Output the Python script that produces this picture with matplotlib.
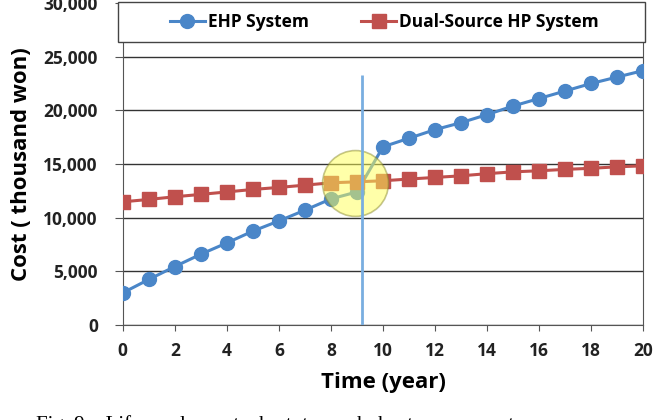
import matplotlib
matplotlib.use("Agg")
import matplotlib.pyplot as plt
from matplotlib.patches import Rectangle

years = list(range(0, 21))
ehp_cost = [3000, 4250, 5450, 6600, 7650, 8750, 9700, 10700, 11750, 12400,
            16600, 17400, 18200, 18850, 19600, 20400, 21100, 21800, 22500, 23100, 23700]
dual_cost = [11480, 11700, 11950, 12170, 12400, 12630, 12820, 13030, 13250, 13340,
             13440, 13600, 13750, 13900, 14100, 14270, 14370, 14500, 14600, 14740, 14830]
break_even = 9.2
highlight = (8.93, 13270)

plt.rcParams['font.family'] = ['Open Sans', 'DejaVu Sans']

fig = plt.figure(figsize=(6.53, 4.2), dpi=100)
ax = fig.add_axes([0.188, 0.226, 0.797, 0.767])

ax.plot(years, ehp_cost, color='#4a86c8', lw=2.2, marker='o', ms=10,
        label='EHP System', zorder=3)
ax.plot(years, dual_cost, color='#c0504d', lw=2.2, marker='s', ms=9.5,
        label='Dual-Source HP System', zorder=3)

# highlighted crossing region
ax.scatter([highlight[0]], [highlight[1]], s=2250, color='#ffff55', alpha=0.5,
           edgecolors='#8a8a30', linewidths=1.2, zorder=4)
ax.vlines(break_even, 0, 23300, color='#79aee0', lw=2, zorder=5)

ax.set_xlim(0, 20)
ax.set_ylim(0, 30000)
ax.set_xticks(range(0, 21, 2))
ax.set_yticks(range(0, 30001, 5000))
ax.set_yticklabels([f'{v:,}' for v in range(0, 30001, 5000)])
ax.yaxis.grid(True, color='#333333', lw=1)
ax.set_axisbelow(True)
for s in ax.spines.values():
    s.set_color('#555555')
ax.tick_params(axis='both', direction='out', color='#555555', labelsize=12.5)
ax.tick_params(axis='y', length=6, pad=12)
ax.tick_params(axis='x', length=4, pad=8)
for lbl in ax.get_xticklabels() + ax.get_yticklabels():
    lbl.set_fontweight('bold')
    lbl.set_color('#222222')

ax.set_xlabel('Time (year)', fontsize=16, fontweight='bold', labelpad=9)
ax.set_ylabel('Cost ( thousand won)', fontsize=16, fontweight='bold', labelpad=8)

# legend box covering the top of the plot area
ax.add_patch(Rectangle((-0.009, 0.879), 1.013, 0.125, transform=ax.transAxes,
                       facecolor='white', edgecolor='#444444', lw=1,
                       clip_on=False, zorder=9))
leg = ax.legend(loc='center', bbox_to_anchor=(0.503, 0.94), ncol=2,
                frameon=False, prop={'weight': 'bold', 'size': 12.5},
                handlelength=2.0, handletextpad=0.2, columnspacing=3.0,
                borderaxespad=0)
leg.set_zorder(10)

fig.text(0.055, 0.012, 'Fig. 9.   Life  cycle  cost  chart  to  each  heat  pump  system',
         family='Liberation Serif', fontsize=15, va='top', ha='left')

fig.savefig('out.png', dpi=100)
